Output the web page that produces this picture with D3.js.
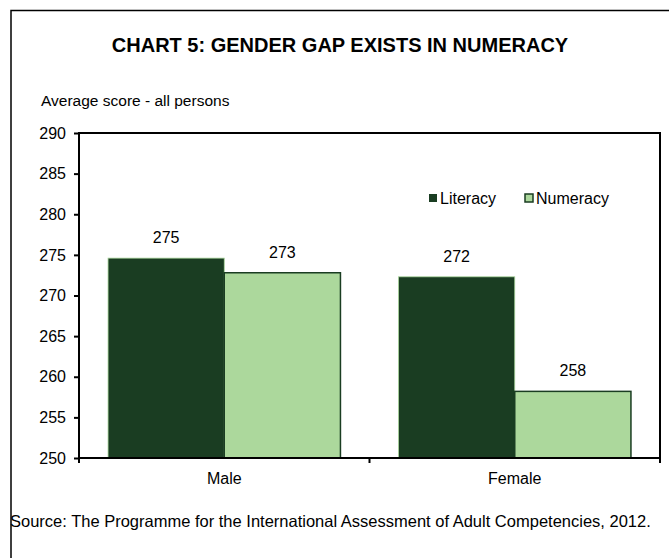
<!DOCTYPE html>
<html>
<head>
<meta charset="utf-8">
<script src="https://cdn.jsdelivr.net/npm/d3@7"></script>
<style>
  body { margin: 0; background: #fff; }
  svg { display: block; font-family: "Liberation Sans", Arial, sans-serif; }
</style>
</head>
<body>
<svg width="669" height="558"></svg>
<script>
var categories = ['Male', 'Female'];
var seriesNames = ['Literacy', 'Numeracy'];
var literacy = [274.6, 272.3];
var numeracy = [272.8, 258.2];
var valueLabels = [['275', '273'], ['272', '258']];
var yTicks = [250, 255, 260, 265, 270, 275, 280, 285, 290];

var colors = { Literacy: '#1a3d22', Numeracy: '#acd89c' };
var strokes = { Literacy: '#a8d49a', Numeracy: '#1a3d22' };

var svg = d3.select('svg');

// outer frame, runs off the right and bottom edges
svg.append('rect')
  .attr('x', 11).attr('y', 10.5)
  .attr('width', 700).attr('height', 600)
  .attr('fill', 'none').attr('stroke', '#000').attr('stroke-width', 1.5);

svg.append('text')
  .attr('x', 340).attr('y', 52)
  .attr('text-anchor', 'middle')
  .attr('font-size', 20).attr('font-weight', 'bold')
  .text('CHART 5: GENDER GAP EXISTS IN NUMERACY');

svg.append('text')
  .attr('x', 41).attr('y', 106)
  .attr('font-size', 15.5)
  .text('Average score - all persons');

var plotLeft = 79, plotRight = 660, plotTop = 133, plotBottom = 458;

var x0 = d3.scaleBand().domain(categories).range([plotLeft, plotRight])
  .paddingInner(0.2).paddingOuter(0.1);
var x1 = d3.scaleBand().domain(seriesNames).range([0, x0.bandwidth()]);
var y = d3.scaleLinear().domain([250, 290]).range([plotBottom, plotTop]);

var rows = categories.map(function(c, i) {
  return { cat: c, i: i, values: [
    { name: 'Literacy', v: literacy[i], label: valueLabels[i][0] },
    { name: 'Numeracy', v: numeracy[i], label: valueLabels[i][1] }
  ] };
});

var groups = svg.append('g').selectAll('g')
  .data(rows)
  .enter().append('g')
    .attr('transform', d => 'translate(' + x0(d.cat) + ',0)');

groups.selectAll('rect')
  .data(d => d.values)
  .enter().append('rect')
    .attr('x', d => x1(d.name))
    .attr('y', d => y(d.v))
    .attr('width', x1.bandwidth())
    .attr('height', d => y(250) - y(d.v))
    .attr('fill', d => colors[d.name])
    .attr('stroke', d => strokes[d.name])
    .attr('stroke-width', d => d.name === 'Numeracy' ? 1.5 : 0.8);

groups.selectAll('text')
  .data(d => d.values)
  .enter().append('text')
    .attr('x', d => x1(d.name) + x1.bandwidth() / 2)
    .attr('y', d => y(d.v) - 15)
    .attr('text-anchor', 'middle')
    .attr('font-size', 16)
    .text(d => d.label);

// plot frame
svg.append('rect')
  .attr('x', plotLeft).attr('y', plotTop)
  .attr('width', plotRight - plotLeft).attr('height', plotBottom - plotTop)
  .attr('fill', 'none').attr('stroke', '#000').attr('stroke-width', 2);

var yAxis = svg.append('g')
  .attr('transform', 'translate(' + plotLeft + ',0)')
  .call(d3.axisLeft(y).tickValues(yTicks).tickSize(5).tickPadding(8));
yAxis.select('.domain').remove();
yAxis.selectAll('line').attr('stroke-width', 2);
yAxis.selectAll('text').attr('font-size', 16).attr('font-family', null).attr('fill', '#000');

var xAxis = svg.append('g')
  .attr('transform', 'translate(0,' + plotBottom + ')');
xAxis.selectAll('line')
  .data([plotLeft, (x0('Male') + x0.bandwidth() + x0('Female')) / 2, plotRight])
  .enter().append('line')
    .attr('x1', d => d).attr('x2', d => d)
    .attr('y1', 0).attr('y2', 5)
    .attr('stroke', '#000').attr('stroke-width', 2);
xAxis.selectAll('text')
  .data(categories)
  .enter().append('text')
    .attr('x', d => x0(d) + x0.bandwidth() / 2)
    .attr('y', 26)
    .attr('text-anchor', 'middle')
    .attr('font-size', 16)
    .text(d => d);

// legend
var legend = svg.append('g').attr('transform', 'translate(429,194)');
var legendX = [0, 96];
seriesNames.forEach(function(name, i) {
  legend.append('rect')
    .attr('x', legendX[i]).attr('y', 0)
    .attr('width', 8).attr('height', 8)
    .attr('fill', colors[name])
    .attr('stroke', name === 'Numeracy' ? '#1a3d22' : 'none')
    .attr('stroke-width', 1.5);
  legend.append('text')
    .attr('x', legendX[i] + 11).attr('y', 10)
    .attr('font-size', 16)
    .text(name);
});

svg.append('text')
  .attr('x', 10).attr('y', 527)
  .attr('font-size', 16.5)
  .text('Source: The Programme for the International Assessment of Adult Competencies, 2012.');
</script>
</body>
</html>
